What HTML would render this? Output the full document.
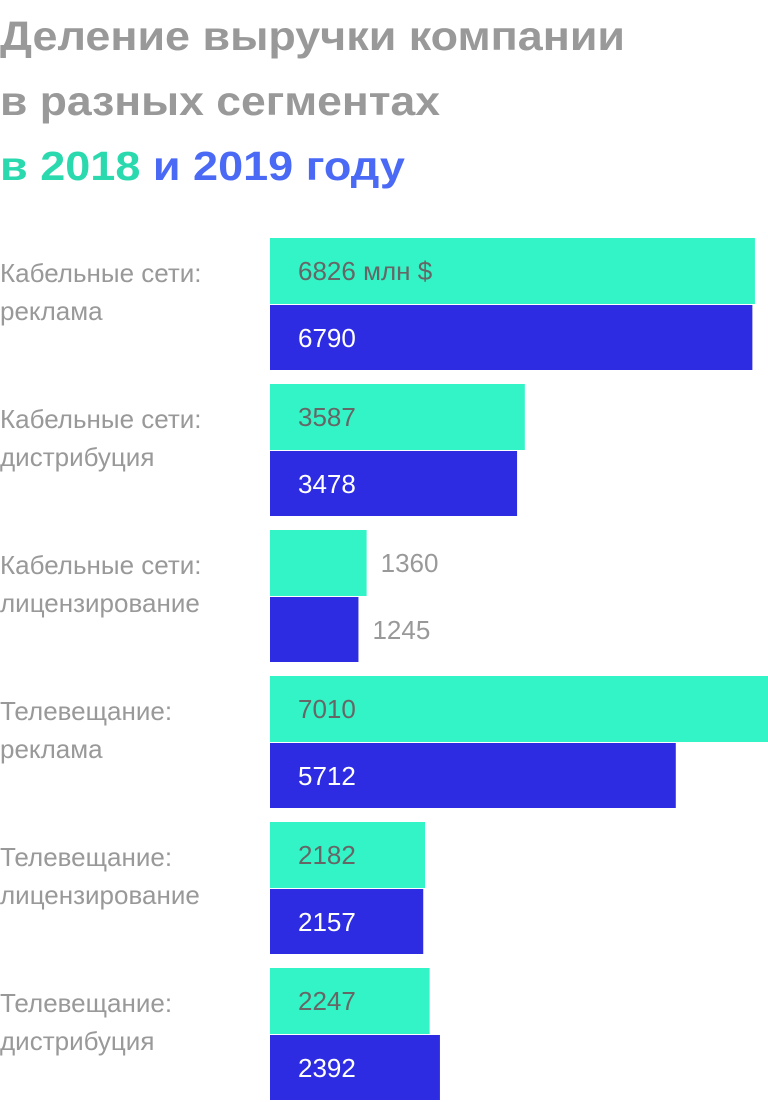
<!DOCTYPE html>
<html><head><meta charset="utf-8"><style>
html,body{margin:0;padding:0;background:#fff;}
svg{display:block;font-family:"Liberation Sans",sans-serif;}
</style></head><body>
<svg id="chart" width="768" height="1102" viewBox="0 0 768 1102">
<g font-weight="bold" font-size="41">
<text x="0" y="50" fill="#999" textLength="625" lengthAdjust="spacingAndGlyphs">Деление выручки компании</text>
<text x="0" y="115" fill="#999" textLength="440" lengthAdjust="spacingAndGlyphs">в разных сегментах</text>
<text x="0" y="180" textLength="405" lengthAdjust="spacingAndGlyphs"><tspan fill="#2ad9ae">в 2018</tspan><tspan fill="#4a6af5"> и 2019 году</tspan></text>
</g>
<g id="bars"></g>
</svg>
<script>
const categories1 = ["Кабельные сети:","Кабельные сети:","Кабельные сети:","Телевещание:","Телевещание:","Телевещание:"];
const categories2 = ["реклама","дистрибуция","лицензирование","реклама","лицензирование","дистрибуция"];
const values2018 = [6826,3587,1360,7010,2182,2247];
const values2019 = [6790,3478,1245,5712,2157,2392];
const NS="http://www.w3.org/2000/svg";
const g=document.getElementById('bars');
const x0=270, scale=498/7010;
const xw=v=>v*scale;
const groupY=i=>238+i*146;
function mk(t,a){const e=document.createElementNS(NS,t);for(const k in a)e.setAttribute(k,a[k]);return e;}
categories1.forEach((c,i)=>{
  const y=groupY(i);
  const t1=mk('text',{x:0,y:y+44,fill:'#999','font-size':26});
  
  
  t1.textContent=c;g.appendChild(t1);
  const t2=mk('text',{x:0,y:y+82,fill:'#999','font-size':26});
  
  
  t2.textContent=categories2[i];g.appendChild(t2);
  [[values2018[i],'#33f4c6','#666',0,'bar-2018'],[values2019[i],'#2e2ce3','#fff',67,'bar-2019']].forEach(([v,col,tc,off,nm],j)=>{
    const w=xw(v);
    const r=mk('rect',{x:x0,y:y+off,width:w,height:j?65:66,fill:col});
    
    
    g.appendChild(r);
    const inside=w>100;
    const lbl=(i===0&&j===0)?v+' млн $':String(v);
    const t=mk('text',{x:inside?x0+28:x0+w+14,y:y+off+42,fill:inside?tc:'#999','font-size':26});
    
    
    t.textContent=lbl;g.appendChild(t);
  });
});
</script>
</body></html>
